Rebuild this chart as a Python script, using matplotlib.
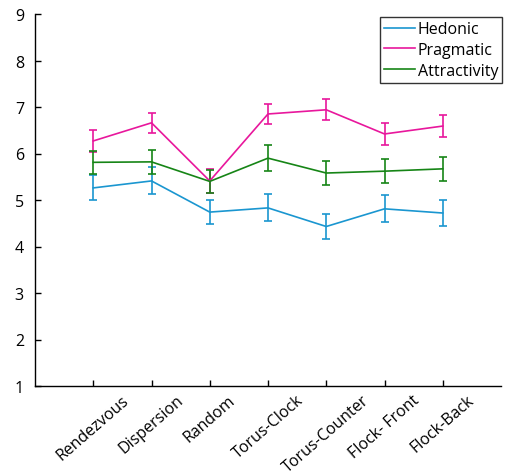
import matplotlib
matplotlib.use("Agg")
import matplotlib.pyplot as plt
from matplotlib.lines import Line2D
import numpy as np

plt.rcParams["font.family"] = ["Open Sans", "DejaVu Sans"]

conditions = ["Rendezvous", "Dispersion", "Random", "Torus-Clock",
              "Torus-Counter", "Flock- Front", "Flock-Back"]

hedonic = [5.26, 5.41, 4.74, 4.83, 4.43, 4.81, 4.72]
hedonic_err = [0.27, 0.29, 0.26, 0.29, 0.27, 0.29, 0.28]

pragmatic = [6.27, 6.66, 5.41, 6.85, 6.94, 6.42, 6.59]
pragmatic_err = [0.24, 0.22, 0.25, 0.22, 0.23, 0.24, 0.23]

attractivity = [5.81, 5.82, 5.40, 5.90, 5.58, 5.62, 5.67]
attractivity_err = [0.25, 0.26, 0.25, 0.28, 0.26, 0.26, 0.26]

series = [
    ("Hedonic", hedonic, hedonic_err, "#1a96d0"),
    ("Pragmatic", pragmatic, pragmatic_err, "#e8179c"),
    ("Attractivity", attractivity, attractivity_err, "#168516"),
]

x = np.arange(1, len(conditions) + 1)

fig = plt.figure(figsize=(5.07, 4.77), dpi=100)
ax = fig.add_axes([35 / 507, 90 / 477, 466 / 507, 372 / 477])

handles = []
for name, vals, err, col in series:
    ax.errorbar(x, vals, yerr=err, color=col, lw=1.2, elinewidth=1.2,
                capsize=2.8, capthick=1.2)
    handles.append(Line2D([], [], color=col, lw=1.2, label=name))

ax.set_xlim(0, 8)
ax.set_ylim(1, 9)
ax.set_yticks(range(1, 10))
ax.set_xticks(x)
ax.set_xticklabels(conditions, rotation=41, ha="center", va="top",
                   fontsize=11.5)
ax.tick_params(direction="in", length=4, width=1)
ax.tick_params(axis="y", pad=8, labelsize=11.5)
ax.tick_params(axis="x", pad=4)
for s in ["top", "right"]:
    ax.spines[s].set_visible(False)
for s in ["left", "bottom"]:
    ax.spines[s].set_linewidth(1)

leg = ax.legend(handles=handles, loc="upper right",
                bbox_to_anchor=(1.01, 1.0), fontsize=11.5,
                frameon=True, fancybox=False, edgecolor="black",
                handlelength=1.9, handletextpad=0.2, borderpad=0.25,
                labelspacing=0.3, borderaxespad=0.2)
leg.get_frame().set_linewidth(1)

fig.savefig("out.png", dpi=100)
